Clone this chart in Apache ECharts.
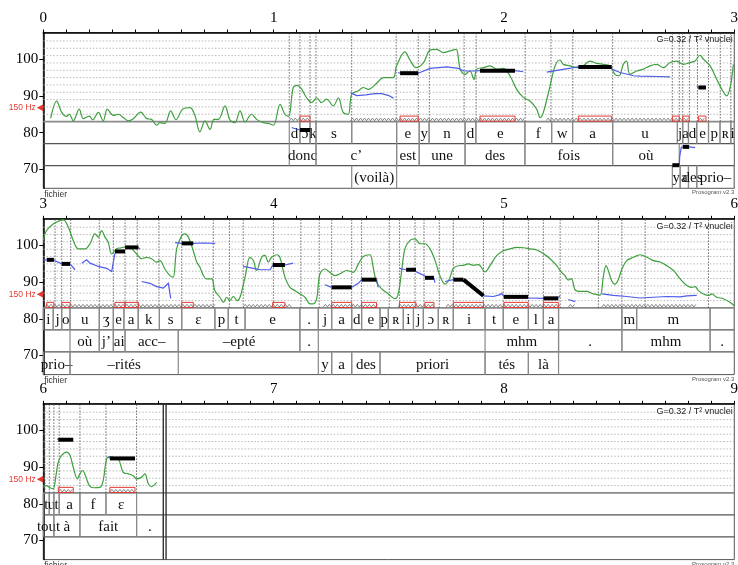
<!DOCTYPE html>
<html><head><meta charset="utf-8">
<script src="https://cdn.jsdelivr.net/npm/echarts@6/dist/echarts.min.js"></script>
<style>html,body{margin:0;padding:0;background:#fff}#c{width:738px;height:565px}</style>
</head><body><div id="c"></div><script>
// ---------------- DATA ----------------
const panelStarts = [0, 3, 6];
const yTickValues = [70, 80, 90, 100];
const gridLineST = [85, 87, 89, 91, 93, 95, 97, 99, 101, 103, 105];
const refHzST = 86.74; // 150 Hz
const refHzLabel = '150 Hz';
const headerText = 'G=0.32 / T\u00B2 vnuclei';
const fileText = 'fichier';
const versionText = 'Prosogram v2.3';

const f0Curve1 = [[0.032,83.9],[0.058,88.6],[0.080,85.5],[0.101,84.4],[0.113,85.0],[0.130,83.2],[0.156,86.4],[0.174,83.8],[0.200,84.5],[0.214,83.5],[0.239,85.5],[0.260,83.2],[0.278,86.4],[0.304,84.7],[0.326,85.0],[0.347,84.1],[0.369,83.2],[0.391,83.8],[0.423,85.6],[0.449,83.8],[0.470,83.6],[0.492,82.0],[0.506,82.7],[0.528,82.5],[0.553,85.9],[0.576,83.5],[0.605,86.4],[0.637,86.8],[0.658,84.7],[0.680,80.2],[0.702,83.2],[0.724,80.9],[0.741,83.6],[0.760,83.6],[0.789,87.3],[0.810,83.5],[0.832,82.7],[0.854,85.9],[0.876,82.9],[0.904,85.0],[0.926,83.6],[0.955,82.7],[0.977,82.5],[0.999,82.0],[1.028,87.7],[1.049,85.0],[1.065,84.4],[1.085,92.3],[1.103,92.9],[1.122,91.8],[1.143,89.5],[1.165,88.2],[1.187,89.5],[1.208,88.2],[1.230,89.1],[1.259,87.3],[1.281,89.5],[1.302,85.5],[1.324,85.0],[1.339,90.5],[1.368,91.4],[1.389,92.3],[1.411,91.8],[1.450,93.6],[1.476,95.0],[1.519,95.0],[1.534,98.2],[1.570,102.0],[1.592,99.8],[1.618,97.7],[1.650,99.0],[1.679,102.5],[1.708,102.7],[1.737,101.8],[1.766,102.3],[1.792,102.7],[1.810,97.3],[1.831,95.9],[1.852,96.8],[1.870,94.5],[1.882,97.3],[1.911,97.7],[1.940,98.2],[1.968,97.3],[1.997,97.5],[2.026,95.5],[2.055,91.8],[2.084,89.6],[2.113,88.6],[2.142,86.4],[2.157,84.1],[2.171,85.5],[2.200,92.7],[2.222,98.2],[2.243,99.8],[2.258,98.6],[2.287,98.2],[2.316,97.7],[2.344,98.2],[2.373,99.5],[2.402,98.9],[2.431,98.6],[2.460,98.2],[2.482,95.9],[2.500,95.5],[2.518,98.6],[2.532,99.5],[2.547,95.9],[2.576,96.8],[2.605,97.3],[2.634,98.2],[2.663,98.6],[2.692,97.7],[2.721,99.1],[2.750,99.5],[2.779,98.6],[2.808,99.1],[2.829,99.5],[2.851,101.1],[2.866,100.0],[2.895,98.2],[2.924,94.5],[2.946,91.8],[2.967,90.0],[2.982,92.3],[2.996,98.6]];

const f0Curve2 = [[3.0,101.4],[3.014,104.1],[3.043,105.9],[3.072,106.8],[3.087,107.0],[3.109,105.0],[3.130,101.4],[3.152,99.1],[3.181,99.1],[3.203,100.5],[3.224,103.2],[3.239,102.3],[3.253,104.1],[3.268,102.3],[3.282,100.9],[3.297,97.7],[3.318,99.1],[3.340,99.4],[3.362,99.7],[3.384,99.1],[3.405,97.7],[3.427,96.4],[3.449,96.8],[3.470,96.4],[3.492,95.5],[3.506,95.9],[3.528,93.6],[3.550,91.8],[3.564,91.4],[3.579,99.1],[3.601,102.7],[3.615,103.2],[3.630,102.3],[3.651,98.6],[3.666,95.5],[3.680,94.1],[3.695,91.8],[3.709,90.9],[3.731,90.9],[3.745,87.7],[3.767,85.9],[3.782,84.5],[3.796,85.9],[3.810,85.0],[3.825,86.1],[3.842,85.0],[3.854,85.9],[3.876,91.4],[3.897,96.8],[3.912,95.9],[3.926,93.2],[3.948,96.8],[3.962,97.3],[3.977,95.5],[3.991,96.8],[4.013,97.5],[4.027,96.8],[4.049,91.4],[4.071,88.6],[4.093,87.7],[4.114,86.8],[4.136,85.9],[4.158,84.1],[4.172,84.1],[4.187,85.5],[4.201,92.3],[4.223,93.6],[4.244,92.7],[4.266,91.8],[4.288,92.3],[4.317,93.2],[4.346,92.7],[4.368,95.0],[4.389,97.0],[4.418,97.5],[4.432,94.1],[4.447,90.0],[4.469,88.2],[4.498,86.8],[4.527,85.5],[4.541,86.8],[4.556,93.2],[4.570,99.1],[4.592,101.4],[4.614,101.8],[4.636,100.5],[4.657,100.5],[4.679,99.1],[4.701,95.9],[4.722,91.8],[4.744,89.5],[4.763,90.9],[4.780,93.8],[4.802,94.5],[4.824,94.6],[4.845,95.0],[4.867,94.6],[4.889,94.8],[4.918,92.8],[4.940,94.6],[4.969,97.3],[4.997,98.6],[5.026,99.1],[5.055,99.5],[5.084,99.4],[5.113,99.1],[5.142,98.8],[5.171,97.8],[5.200,96.4],[5.229,94.5],[5.250,92.7],[5.265,91.8],[5.279,90.6],[5.293,91.0],[5.308,88.0],[5.330,87.5],[5.359,87.5],[5.388,86.8],[5.417,86.5],[5.431,91.4],[5.443,94.5],[5.453,93.2],[5.467,90.5],[5.481,89.5],[5.495,90.5],[5.512,93.6],[5.533,95.9],[5.562,96.8],[5.591,97.5],[5.620,96.8],[5.649,95.9],[5.678,95.5],[5.707,94.5],[5.736,93.2],[5.765,90.9],[5.794,89.1],[5.815,88.6],[5.830,88.8],[5.844,87.7],[5.866,86.8],[5.888,86.4],[5.902,86.8],[5.924,85.9],[5.953,85.5],[5.982,84.5],[6.0,83.6]];

const f0Curve3 = [[6.0,84.5],[6.014,85.0],[6.029,84.4],[6.043,84.1],[6.055,87.7],[6.065,91.4],[6.080,93.2],[6.101,94.1],[6.116,93.2],[6.130,90.0],[6.148,86.8],[6.159,88.2],[6.171,89.1],[6.185,87.3],[6.200,85.0],[6.217,84.4],[6.246,84.5],[6.260,86.4],[6.275,92.3],[6.289,92.9],[6.304,92.7],[6.326,92.3],[6.347,88.6],[6.369,88.2],[6.391,87.7],[6.405,86.8],[6.427,87.3],[6.441,88.2],[6.456,85.5],[6.470,84.7],[6.492,85.9]];

// stylized pitch (blue)
const stylized = [
  [[1.078,81.4],[1.100,80.9],[1.114,80.7]],
  [[1.334,90.9],[1.360,90.1],[1.400,90.3],[1.440,90.6],[1.470,90.6],[1.500,90.1],[1.520,89.4]],
  [[1.540,96.4],[1.549,96.2],[1.628,96.2],[1.679,97.5],[1.752,97.9],[1.802,97.5],[1.824,96.8],[1.867,96.8],[1.896,96.9],[2.048,96.9],[2.084,96.6]],
  [[2.186,96.5],[2.243,97.1],[2.323,97.9]],
  [[2.468,97.3],[2.504,96.4],[2.562,95.5],[2.591,95.4],[2.663,95.3],[2.721,95.2]],
  [[2.761,71.1],[2.763,73.5],[2.770,76.0],[2.776,76.1]],
  [[2.804,76.1],[2.830,75.9]],
  [[2.838,92.7],[2.844,92.3]],
  [[3.0,96.1],[3.015,96.1]],
  [[3.046,96.0],[3.080,95.0]],
  [[3.116,95.0],[3.138,93.4]],
  [[3.167,95.2],[3.188,96.1],[3.203,95.2],[3.239,94.3],[3.275,93.8],[3.297,92.9],[3.311,97.9]],
  [[3.413,99.5],[3.420,99.0]],
  [[3.427,90.2],[3.463,89.7],[3.492,88.8],[3.521,88.4],[3.536,89.3],[3.543,89.7],[3.553,85.6]],
  [[3.572,100.8],[3.601,100.6],[3.651,100.6],[3.695,100.7],[3.746,100.6]],
  [[3.868,94.3],[3.912,93.8],[3.941,93.4],[3.985,93.4],[3.996,94.7]],
  [[4.049,94.7],[4.085,95.2]],
  [[4.223,89.3],[4.252,88.6]],
  [[4.339,88.6],[4.368,89.7],[4.382,90.7]],
  [[4.447,90.7],[4.454,88.6]],
  [[4.546,93.8],[4.575,93.4]],
  [[4.618,92.9],[4.657,91.7]],
  [[4.696,91.2],[4.700,89.9]],
  [[4.744,90.2],[4.780,90.7]],
  [[4.911,86.3],[4.954,86.1],[4.983,86.6],[4.990,87.0],[5.0,86.0]],
  [[5.105,85.7],[5.171,85.6]],
  [[5.236,85.8],[5.244,86.3]],
  [[5.280,85.3],[5.309,84.7]],
  [[5.425,86.8],[5.475,86.4],[5.533,86.1],[5.591,85.7],[5.649,85.9],[5.707,86.1],[5.765,86.0],[5.794,86.3],[5.837,86.4]],
  [[6.060,97.8],[6.065,97.5]],
  [[6.282,92.8],[6.289,92.4]]
];

// plateaus (black): t1, st1, t2, st2
const plateaus = [
  [1.114,80.7,1.158,80.7],[1.549,96.2,1.628,96.2],[1.896,96.9,2.048,96.9],[2.323,97.9,2.468,97.9],
  [2.731,71.1,2.761,71.1],[2.776,76.1,2.804,76.1],[2.844,92.3,2.877,92.3],
  [3.015,96.1,3.046,96.1],[3.080,95.0,3.116,95.0],[3.311,98.4,3.355,98.4],[3.355,99.5,3.413,99.5],
  [3.601,100.6,3.651,100.6],[3.996,94.7,4.049,94.7],[4.252,88.6,4.339,88.6],[4.382,90.7,4.447,90.7],
  [4.575,93.4,4.618,93.4],[4.657,91.2,4.696,91.2],[4.780,90.7,4.824,90.7],[4.824,90.7,4.911,86.3],
  [5.0,86.0,5.105,86.0],[5.171,85.6,5.236,85.6],
  [6.065,97.5,6.130,97.5],[6.289,92.4,6.398,92.4]
];

// nuclei (red boxes)
const nuclei = [
  [1.114,1.158],[1.549,1.628],[1.896,2.048],[2.323,2.468],[2.731,2.761],[2.776,2.804],[2.844,2.877],
  [3.015,3.046],[3.080,3.116],[3.311,3.355],[3.355,3.413],[3.601,3.651],[3.996,4.049],[4.252,4.339],
  [4.382,4.447],[4.546,4.618],[4.657,4.696],[4.780,4.911],[5.0,5.105],[5.171,5.236],
  [6.065,6.130],[6.289,6.398]
];

// voiced nuclei runs (zigzag)
const vnuclei = [
  [1.068,1.158],[1.334,2.092],[2.183,2.804],[2.844,2.877],
  [3.007,3.753],[3.868,4.085],[4.216,4.455],[4.541,4.700],[4.749,5.244],[5.280,5.309],[5.425,5.837],
  [6.065,6.130],[6.289,6.398]
];

// syllable boundaries (dotted)
const syllableBounds = [
  1.068,1.114,1.158,1.184,1.339,1.532,1.628,1.676,1.827,1.879,2.092,2.204,2.299,2.472,2.731,2.761,2.776,2.805,2.840,2.888,2.939,2.985,
  3.051,3.080,3.119,3.243,3.304,3.355,3.408,3.502,3.601,3.738,3.808,3.868,3.999,4.118,4.198,4.252,4.339,4.382,4.502,4.546,4.614,4.653,4.719,4.780,4.911,4.997,5.106,5.171,5.244,5.410,5.512,5.613,5.888,
  6.007,6.026,6.046,6.069,6.159,6.272,6.405
];

// tiers
const phones = [
  [1.068,1.114,'d'],[1.114,1.158,'\u0254'],[1.158,1.184,'k'],[1.184,1.339,'s'],[1.339,1.534,''],[1.534,1.632,'e'],[1.632,1.675,'y'],[1.675,1.831,'n'],[1.831,1.878,'d'],[1.878,2.091,'e'],[2.091,2.207,'f'],[2.207,2.298,'w'],[2.298,2.472,'a'],[2.472,2.753,'u'],[2.753,2.776,'j'],[2.776,2.801,'a'],[2.801,2.837,'d'],[2.837,2.888,'e'],[2.888,2.938,'p'],[2.938,2.985,'\u0280'],[2.985,3.0,'i'],
  [3.0,3.043,'i'],[3.043,3.080,'j'],[3.080,3.116,'o'],[3.116,3.243,'u'],[3.243,3.304,'\u0292'],[3.304,3.350,'e'],[3.350,3.412,'a'],[3.412,3.504,'k'],[3.504,3.601,'s'],[3.601,3.745,'\u025B'],[3.745,3.803,'p'],[3.803,3.876,'t'],[3.876,4.114,'e'],[4.114,4.194,'.'],[4.194,4.252,'j'],[4.252,4.339,'a'],[4.339,4.382,'d'],[4.382,4.462,'e'],[4.462,4.498,'p'],[4.498,4.563,'\u0280'],[4.563,4.607,'i'],[4.607,4.650,'j'],[4.650,4.715,'\u0254'],[4.715,4.780,'\u0280'],[4.780,4.918,'i'],[4.918,4.997,'t'],[4.997,5.106,'e'],[5.106,5.171,'l'],[5.171,5.237,'a'],[5.237,5.512,''],[5.512,5.576,'m'],[5.576,5.895,'m'],[5.895,6.0,''],
  [6.0,6.026,'t'],[6.026,6.046,'u'],[6.046,6.069,'t'],[6.069,6.159,'a'],[6.159,6.272,'f'],[6.272,6.405,'\u025B']
];
const wordsA = [
  [1.068,1.184,'donc'],[1.184,1.534,'c\u2019'],[1.534,1.632,'est'],[1.632,1.831,'une'],[1.831,2.091,'des'],[2.091,2.472,'fois'],[2.472,2.761,'o\u00F9'],
  [3.116,3.243,'o\u00F9'],[3.243,3.304,'j\u2019'],[3.304,3.355,'ai'],[3.355,3.586,'acc\u2013'],[3.586,4.114,'\u2013ept\u00E9'],[4.114,4.194,'.'],[4.918,5.237,'mhm'],[5.237,5.512,'.'],[5.512,5.895,'mhm'],[5.895,6.0,'.'],
  [6.0,6.046,'tout'],[6.046,6.159,'\u00E0'],[6.159,6.405,'fait'],[6.405,6.521,'.']
];
const wordsB = [
  [1.339,1.534,'(voil\u00E0)'],[2.731,2.765,'y'],[2.765,2.801,'a'],[2.801,2.837,'des'],[2.837,3.0,'prio\u2013'],
  [3.0,3.116,'prio\u2013'],[3.116,3.586,'\u2013rit\u00E9s'],[4.194,4.252,'y'],[4.252,4.339,'a'],[4.339,4.462,'des'],[4.462,4.918,'priori'],[4.918,5.106,'t\u00E9s'],[5.106,5.237,'l\u00E0']
];
const signalEnd = [6.521, 6.533];

// ---------------- LAYOUT / STYLE ----------------
const ST_MIN = 64.8, ST_MAX = 107.3;
const TIER_EDGES = [83, 77, 71, ST_MIN];
const TEXT_ST = [79.7, 73.7, 67.5];
const GRID_TOPS = [32.5, 218.8, 403.8];
const GRID_H = 155.8;
const LEFT = 43.3, WIDTH = 691;
const SERIF = '"Liberation Serif","DejaVu Serif",serif';
const SANS = '"Liberation Sans","DejaVu Sans",sans-serif';
const GREEN = '#3f9f3f', BLUE = '#4f5ce8', RED = '#e23b33';

const panelOfT = t => Math.max(0, Math.min(2, Math.floor((t + 1e-6) / 3)));
const panelOfI = (a, b) => panelOfT((a + b) / 2);

const chart = echarts.init(document.getElementById('c'), null, {renderer: 'canvas'});

const grids = [], xAxes = [], yAxes = [], series = [], graphics = [];

for (let p = 0; p < 3; p++) {
  const x0 = panelStarts[p], x1 = x0 + 3;
  grids.push({left: LEFT, top: GRID_TOPS[p], width: WIDTH, height: GRID_H, show: true,
    borderColor: '#555', borderWidth: 1, backgroundColor: 'transparent', outerBoundsMode: 'none', containLabel: false});
  xAxes.push({type: 'value', gridIndex: p, position: 'top', min: x0, max: x1, interval: 1,
    axisLine: {show: true, lineStyle: {color: '#000', width: 1.5}},
    axisTick: {show: true, inside: false, length: 3, lineStyle: {color: '#000', width: 1}},
    minorTick: {show: true, splitNumber: 10, length: 3, lineStyle: {color: '#000', width: 1}},
    axisLabel: {show: true, margin: 7, color: '#000', fontFamily: SERIF, fontSize: 15},
    splitLine: {show: false}, minorSplitLine: {show: false}});
  yAxes.push({type: 'value', gridIndex: p, min: ST_MIN, max: ST_MAX,
    axisLine: {show: true, lineStyle: {color: '#000', width: 1.5}},
    axisTick: {show: true, length: 4, customValues: yTickValues, lineStyle: {color: '#000', width: 1}},
    axisLabel: {show: true, margin: 5, color: '#000', fontFamily: SERIF, fontSize: 15, customValues: yTickValues},
    splitLine: {show: false}});

  const base = {type: 'custom', coordinateSystem: 'cartesian2d', xAxisIndex: p, yAxisIndex: p, silent: true, animation: false};

  // horizontal dotted grid lines (pitch area)
  series.push(Object.assign({}, base, {z: 1,
    data: gridLineST.map(v => [x0, v]),
    renderItem: (params, api) => {
      const v = api.value(1);
      const a = api.coord([x0, v]), b = api.coord([x1, v]);
      return {type: 'line', shape: {x1: a[0], y1: a[1], x2: b[0], y2: b[1]},
        style: {stroke: '#a8a8a8', lineWidth: 0.8, lineDash: [1.5, 1.8], fill: null}};
    }}));

  // tier separation lines
  series.push(Object.assign({}, base, {z: 2,
    data: TIER_EDGES.slice(0, 3).map(v => [x0, v]),
    renderItem: (params, api) => {
      const v = api.value(1);
      const a = api.coord([x0, v]), b = api.coord([x1, v]);
      const first = params.dataIndex === 0;
      return {type: 'line', shape: {x1: a[0], y1: a[1], x2: b[0], y2: b[1]},
        style: {stroke: first ? '#8a8a8a' : '#555', lineWidth: first ? 1.6 : 1.2, fill: null}};
    }}));

  // syllable boundaries (dotted verticals)
  const sb = syllableBounds.filter(t => panelOfT(t) === p);
  series.push(Object.assign({}, base, {z: 2,
    data: sb.map(t => [t, TIER_EDGES[0]]),
    renderItem: (params, api) => {
      const t = api.value(0);
      const a = api.coord([t, TIER_EDGES[0]]), b = api.coord([t, ST_MAX]);
      return {type: 'line', shape: {x1: a[0], y1: a[1], x2: b[0], y2: b[1]},
        style: {stroke: '#444', lineWidth: 0.8, lineDash: [1.5, 1.5], fill: null}};
    }}));

  // tiers
  const items = [];
  [phones, wordsA, wordsB].forEach((tier, row) => tier.forEach(d => {
    if (panelOfI(d[0], d[1]) === p) items.push({t1: d[0], t2: d[1], label: d[2], row});
  }));
  series.push(Object.assign({}, base, {z: 3,
    data: items.map(d => [(d.t1 + d.t2) / 2, TEXT_ST[d.row]]),
    renderItem: (params, api) => {
      const d = items[params.dataIndex];
      const top = TIER_EDGES[d.row], bot = TIER_EDGES[d.row + 1];
      const a1 = api.coord([d.t1, top]), a2 = api.coord([d.t1, bot]);
      const b1 = api.coord([d.t2, top]), b2 = api.coord([d.t2, bot]);
      const c = api.coord([(d.t1 + d.t2) / 2, TEXT_ST[d.row]]);
      const ls = {stroke: '#8a8a8a', lineWidth: 1.2, fill: null};
      return {type: 'group', children: [
        {type: 'line', shape: {x1: a1[0], y1: a1[1], x2: a2[0], y2: a2[1]}, style: ls},
        {type: 'line', shape: {x1: b1[0], y1: b1[1], x2: b2[0], y2: b2[1]}, style: ls},
        {type: 'text', x: c[0], y: c[1], style: {text: d.label, fill: '#111', font: '15px ' + SERIF, align: 'center', verticalAlign: 'middle'}}
      ]};
    }}));

  // zigzag for voiced nuclei runs
  const vz = vnuclei.filter(d => panelOfI(d[0], d[1]) === p);
  series.push(Object.assign({}, base, {z: 3,
    data: vz.map(d => [d[0], 83.6]),
    renderItem: (params, api) => {
      const d = vz[params.dataIndex];
      const a = api.coord([d[0], 83.6]), b = api.coord([d[1], 83.6]);
      const pts = [];
      let k = 0;
      for (let x = a[0]; x <= b[0]; x += 2, k++) pts.push([x, a[1] + (k % 2 ? -1.3 : 1.3)]);
      return {type: 'polyline', shape: {points: pts}, style: {stroke: '#6a6a6a', lineWidth: 0.8, fill: null}};
    }}));

  // nuclei red boxes
  const nu = nuclei.filter(d => panelOfI(d[0], d[1]) === p);
  series.push(Object.assign({}, base, {z: 4,
    data: nu.map(d => [d[0], 84.4]),
    renderItem: (params, api) => {
      const d = nu[params.dataIndex];
      const a = api.coord([d[0], 84.5]), b = api.coord([d[1], 83.1]);
      return {type: 'rect', shape: {x: a[0], y: a[1], width: b[0] - a[0], height: b[1] - a[1]},
        style: {stroke: RED, lineWidth: 1, fill: null}};
    }}));

  // green F0 curve
  series.push({type: 'line', xAxisIndex: p, yAxisIndex: p, data: [f0Curve1, f0Curve2, f0Curve3][p],
    showSymbol: false, smooth: 0.35, z: 5, silent: true, animation: false,
    lineStyle: {color: GREEN, width: 1.2}});

  // blue stylization
  const bl = stylized.filter(s => panelOfI(s[0][0], s[s.length - 1][0]) === p);
  series.push(Object.assign({}, base, {z: 6,
    data: bl.map(s => s[0]),
    renderItem: (params, api) => {
      const s = bl[params.dataIndex];
      return {type: 'polyline', shape: {points: s.map(q => api.coord(q))},
        style: {stroke: BLUE, lineWidth: 1.2, fill: null}};
    }}));

  // black plateaus
  const pl = plateaus.filter(d => panelOfI(d[0], d[2]) === p);
  series.push(Object.assign({}, base, {z: 7,
    data: pl.map(d => [d[0], d[1]]),
    renderItem: (params, api) => {
      const d = pl[params.dataIndex];
      const a = api.coord([d[0], d[1]]), b = api.coord([d[2], d[3]]);
      return {type: 'line', shape: {x1: a[0], y1: a[1], x2: b[0], y2: b[1]},
        style: {stroke: '#000', lineWidth: 4, lineCap: 'butt', fill: null}};
    }}));

  // end of signal double line
  const se = signalEnd.filter(t => panelOfT(t) === p);
  series.push(Object.assign({}, base, {z: 8,
    data: se.map(t => [t, ST_MIN]),
    renderItem: (params, api) => {
      const t = api.value(0);
      const a = api.coord([t, ST_MIN]), b = api.coord([t, ST_MAX]);
      return {type: 'line', shape: {x1: a[0], y1: a[1], x2: b[0], y2: b[1]},
        style: {stroke: '#333', lineWidth: 1.4, fill: null}};
    }}));

  // 150 Hz reference marker
  series.push(Object.assign({}, base, {z: 8,
    data: [[x0, refHzST]],
    renderItem: (params, api) => {
      const c = api.coord([x0, refHzST]);
      return {type: 'group', children: [
        {type: 'polygon', shape: {points: [[c[0] - 6.5, c[1]], [c[0], c[1] - 3.5], [c[0], c[1] + 3.5]]}, style: {fill: RED, stroke: null}},
        {type: 'text', x: c[0] - 7.5, y: c[1], style: {text: refHzLabel, fill: RED, font: '8.5px ' + SANS, align: 'right', verticalAlign: 'middle'}}
      ]};
    }}));

  // header / footer texts
  graphics.push({type: 'text', x: LEFT + WIDTH - 1.5, y: GRID_TOPS[p] + 7.5, z: 10, silent: true,
    style: {text: headerText, fill: '#222', font: '9px ' + SANS, align: 'right', verticalAlign: 'middle'}});
  graphics.push({type: 'text', x: LEFT + 1, y: GRID_TOPS[p] + GRID_H + 6, z: 10, silent: true,
    style: {text: fileText, fill: '#333', font: '8.5px ' + SANS, align: 'left', verticalAlign: 'middle'}});
  graphics.push({type: 'text', x: LEFT + WIDTH, y: GRID_TOPS[p] + GRID_H + 4.5, z: 10, silent: true,
    style: {text: versionText, fill: '#555', font: '6px ' + SANS, align: 'right', verticalAlign: 'middle'}});
}

chart.setOption({
  animation: false,
  backgroundColor: '#fff',
  grid: grids, xAxis: xAxes, yAxis: yAxes, series: series, graphic: graphics
});
</script></body></html>
